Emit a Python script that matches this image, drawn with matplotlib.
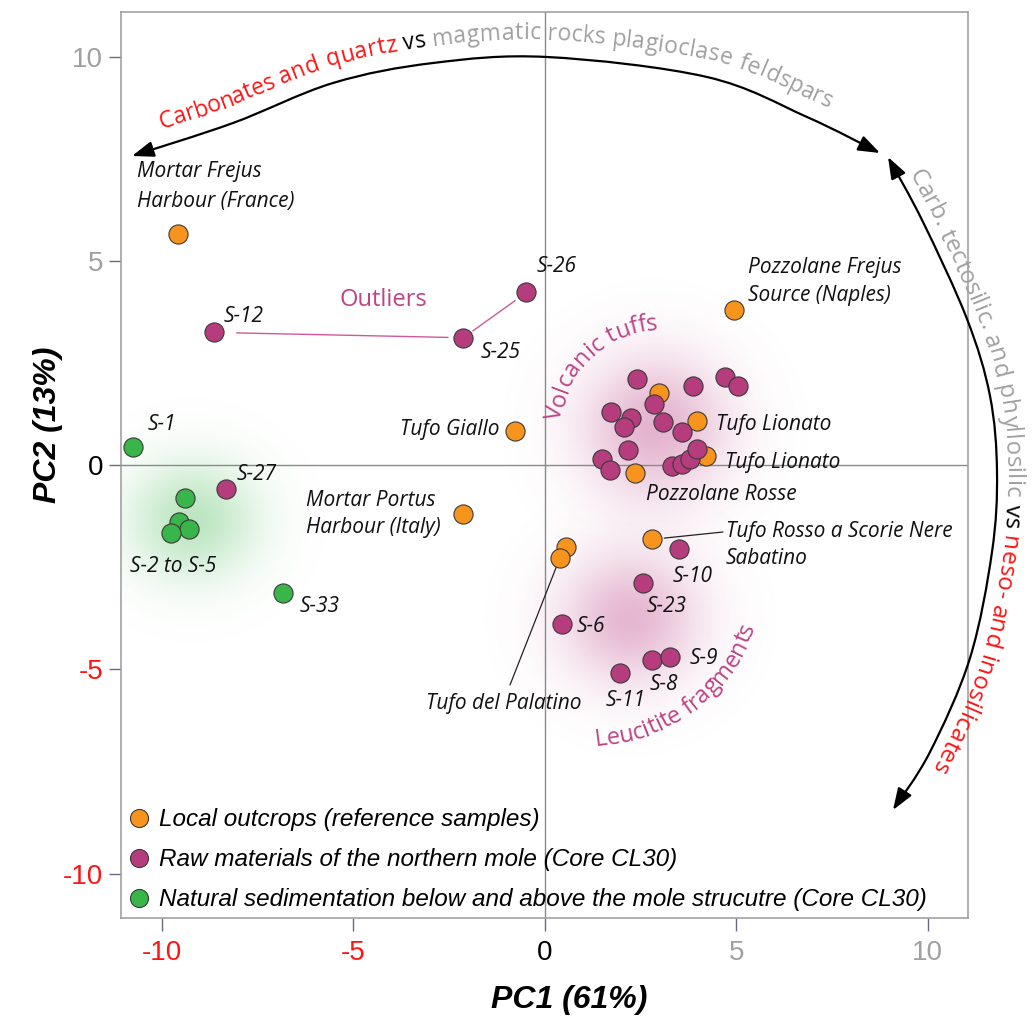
import numpy as np
import matplotlib
matplotlib.use("Agg")
import matplotlib.pyplot as plt
from matplotlib.path import Path
from matplotlib.patches import FancyArrowPatch
from matplotlib.transforms import IdentityTransform
from matplotlib.font_manager import FontProperties, get_font, findfont
from matplotlib.textpath import TextToPath
from matplotlib.lines import Line2D
from matplotlib.colors import to_rgb

# ---------------- data ----------------
local_labels = ['Mortar Frejus Harbour (France)', 'Pozzolane Frejus Source (Naples)', 'Tufo Giallo',
                'Mortar Portus Harbour (Italy)', 'Tufo del Palatino', 'Tufo del Palatino',
                'Tufo Rosso a Scorie Nere Sabatino', 'Tuff', 'Tufo Lionato', 'Tufo Lionato', 'Pozzolane Rosse']
local_pc1 = [-9.58, 4.93, -0.78, -2.14, 0.55, 0.39, 2.81, 2.98, 3.96, 4.20, 2.35]
local_pc2 = [5.67, 3.81, 0.85, -1.19, -2.00, -2.27, -1.81, 1.77, 1.09, 0.22, -0.18]

raw_labels = ['S-12', 'S-25', 'S-26', 'S-27'] + ['VT'] * 17 + ['S-10', 'S-23', 'S-6', 'S-8', 'S-9', 'S-11']
raw_group = ['outlier'] * 3 + ['other'] + ['tuff'] * 17 + ['leucitite'] * 6
raw_pc1 = [-8.63, -2.13, -0.48, -8.33,
           2.41, 2.85, 3.86, 4.70, 5.05, 1.72, 2.24, 2.07, 3.09, 3.57, 2.18, 1.48, 1.71, 3.33, 3.57, 3.79, 3.96,
           3.51, 2.57, 0.44, 2.81, 3.28, 1.96]
raw_pc2 = [3.26, 3.13, 4.24, -0.58,
           2.11, 1.50, 1.95, 2.16, 1.95, 1.32, 1.16, 0.94, 1.07, 0.83, 0.38, 0.15, -0.11, -0.01, 0.04, 0.15, 0.40,
           -2.05, -2.89, -3.88, -4.77, -4.69, -5.09]

nat_labels = ['S-1', 'S-2', 'S-3', 'S-4', 'S-5', 'S-33']
nat_pc1 = [-10.75, -9.40, -9.55, -9.29, -9.76, -6.85]
nat_pc2 = [0.46, -0.80, -1.38, -1.56, -1.66, -3.12]

legend_labels = ['Local outcrops (reference samples)',
                 'Raw materials of the northern mole (Core CL30)',
                 'Natural sedimentation below and above the mole strucutre (Core CL30)']

tick_vals = [-10, -5, 0, 5, 10]
xtick_text = ['-10', '-5', '0', '5', '10']
ytick_text = ['-10', '-5', '0', '5', '10']
xlabel = 'PC1 (61%)'
ylabel = 'PC2 (13%)'

# ---------------- style ----------------
W, H = 1034, 1017
C_ORANGE = '#F7941D'
C_PURPLE = '#B53D7E'
C_GREEN = '#3AB54A'
C_EDGE = '#3a3a3a'
C_RED = '#FF1414'
C_GRAY = '#A0A0A0'
C_PINK = '#BD4486'
tick_colors = {-10: C_RED, -5: C_RED, 0: 'black', 5: C_GRAY, 10: C_GRAY}

LABEL_FONT = ['Open Sans', 'DejaVu Sans']
NARROW = ['Liberation Sans Narrow', 'Liberation Sans', 'DejaVu Sans']
TICK_FONT = ['Liberation Sans', 'DejaVu Sans']
plt.rcParams['font.family'] = LABEL_FONT

fig = plt.figure(figsize=(W / 100, H / 100), dpi=100)
ax = fig.add_axes([120.6 / W, 1 - 918 / H, (968 - 120.6) / W, (918 - 11.7) / H])


# ---------------- glows (centred on the groups) ----------------
def glow(cx, cy, rx, ry, color, amax):
    xs = np.linspace(cx - 2 * rx, cx + 2 * rx, 240)
    ys = np.linspace(cy - 2 * ry, cy + 2 * ry, 240)
    X, Y = np.meshgrid(xs, ys)
    r2 = ((X - cx) / rx) ** 2 + ((Y - cy) / ry) ** 2
    rgba = np.zeros(X.shape + (4,))
    rgba[..., :3] = to_rgb(color)
    rgba[..., 3] = amax * np.exp(-1.6 * r2)
    ax.imshow(rgba, extent=(xs[0], xs[-1], ys[0], ys[-1]), origin='lower', aspect='auto',
              interpolation='bilinear', zorder=0.5)


rp1 = np.array(raw_pc1); rp2 = np.array(raw_pc2); grp = np.array(raw_group)
glow(rp1[grp == 'tuff'].mean() - 0.15, rp2[grp == 'tuff'].mean(), 2.35, 2.15, '#C04A8A', 0.42)
glow(rp1[grp == 'leucitite'].mean() - 0.2, rp2[grp == 'leucitite'].mean() + 0.15, 2.25, 2.0, '#C04A8A', 0.40)
np1 = np.array(nat_pc1); np2 = np.array(nat_pc2)
glow(np1[1:5].mean() + 0.3, np2[1:5].mean(), 2.1, 1.8, '#3AB54A', 0.34)

ax.set_xlim(-11.08, 11.05)
ax.set_ylim(-11.09, 11.12)

# zero lines
ax.axhline(0, color='#8a8a8a', lw=1.0, zorder=1)
ax.axvline(0, color='#8a8a8a', lw=1.0, zorder=1)

# ---------------- points ----------------
ms = 190
ax.scatter(local_pc1, local_pc2, s=ms, c=C_ORANGE, edgecolors=C_EDGE, linewidths=0.8, zorder=3)
ax.scatter(raw_pc1, raw_pc2, s=ms, c=C_PURPLE, edgecolors=C_EDGE, linewidths=0.8, zorder=4)
ax.scatter(nat_pc1, nat_pc2, s=ms, c=C_GREEN, edgecolors=C_EDGE, linewidths=0.8, zorder=5)


def pt(name):
    i = raw_labels.index(name)
    return (raw_pc1[i], raw_pc2[i])


# outlier connectors
ax.annotate('', xy=pt('S-25'), xytext=pt('S-12'),
            arrowprops=dict(arrowstyle='-', color='#D0589A', lw=1.0, shrinkA=16, shrinkB=11), zorder=2)
ax.annotate('', xy=pt('S-26'), xytext=pt('S-25'),
            arrowprops=dict(arrowstyle='-', color='#D0589A', lw=1.0, shrinkA=8.5, shrinkB=10), zorder=2)
# leader lines
ax.annotate('', xy=(local_pc1[5], local_pc2[5]), xytext=(510, H - 685), textcoords='figure pixels',
            arrowprops=dict(arrowstyle='-', color='#222222', lw=0.9, shrinkA=0, shrinkB=7), zorder=2)
ax.annotate('', xy=(local_pc1[6], local_pc2[6]), xytext=(723, H - 532), textcoords='figure pixels',
            arrowprops=dict(arrowstyle='-', color='#222222', lw=0.9, shrinkA=0, shrinkB=8.5), zorder=2)

# ---------------- axes styling ----------------
for sp in ax.spines.values():
    sp.set_color('#9a9a9a')
    sp.set_linewidth(1.1)
ax.set_xticks(tick_vals, labels=xtick_text)
ax.set_yticks(tick_vals, labels=ytick_text)
ax.tick_params(axis='both', direction='out', length=9, width=1.0, color='#6a6a88')
ax.tick_params(axis='x', pad=7)
ax.tick_params(axis='y', pad=3.5)
tfp = FontProperties(family=TICK_FONT, size=20)
for v, lab in zip(tick_vals, ax.get_xticklabels()):
    lab.set_fontproperties(tfp); lab.set_color(tick_colors[v])
for v, lab in zip(tick_vals, ax.get_yticklabels()):
    lab.set_fontproperties(tfp); lab.set_color(tick_colors[v])

afp = FontProperties(family=NARROW, style='italic', weight='bold', size=23)
ax.set_xlabel(xlabel, fontproperties=afp)
ax.set_ylabel(ylabel, fontproperties=afp)
ax.xaxis.set_label_coords(0.529, -0.0905)
ax.xaxis.label.set_va('center')
ax.yaxis.set_label_coords(-0.0857, 0.544)
ax.yaxis.label.set_va('center')

# ---------------- legend ----------------
handles = [Line2D([], [], marker='o', ls='none', ms=13, mfc=c, mec=C_EDGE, mew=0.8)
           for c in (C_ORANGE, C_PURPLE, C_GREEN)]
ax.legend(handles, legend_labels, loc='lower left', bbox_to_anchor=(0.004, 0.0), frameon=False,
          prop=FontProperties(family=NARROW, style='italic', size=17.5),
          handlelength=0.7, handletextpad=0.45, labelspacing=0.7, borderpad=0.27, borderaxespad=0.0)

# ---------------- sample labels (layout in reference pixels) ----------------
lfp = FontProperties(family=LABEL_FONT, style='italic', size=15)
labels_layout = [
    ('Mortar Frejus', 137, 172, 'left'), ('Harbour (France)', 137, 201, 'left'),
    ('Pozzolane Frejus', 748, 268, 'left'), ('Source (Naples)', 748, 296, 'left'),
    ('S-26', 537, 266, 'left'), ('S-12', 224, 316, 'left'), ('S-25', 481, 352, 'left'),
    ('S-1', 148, 424, 'left'), ('Tufo Giallo', 500, 430, 'right'), ('S-27', 237, 474, 'left'),
    ('Mortar Portus', 306, 500, 'left'), ('Harbour (Italy)', 306, 528, 'left'),
    ('S-2 to S-5', 130, 566, 'left'), ('S-33', 300, 606, 'left'),
    ('Tufo Lionato', 716, 425, 'left'), ('Tufo Lionato', 725, 463, 'left'),
    ('Pozzolane Rosse', 646, 495, 'left'),
    ('Tufo Rosso a Scorie Nere', 726, 532, 'left'), ('Sabatino', 726, 559, 'left'),
    ('S-10', 673, 576, 'left'), ('S-23', 647, 607, 'left'), ('S-6', 577, 627, 'left'),
    ('S-9', 690, 658, 'left'), ('S-8', 650, 685, 'left'), ('S-11', 606, 701, 'left'),
    ('Tufo del Palatino', 582, 704, 'right'),
]
for txt, px, py, ha in labels_layout:
    fig.text(px / W, 1 - py / H, txt, ha=ha, va='center', fontproperties=lfp, color='#111111')

gfp = FontProperties(family=LABEL_FONT, size=17)
fig.text(383 / W, 1 - 300 / H, 'Outliers', ha='center', va='center', fontproperties=gfp, color=C_PINK)

# ---------------- curved arrows and curved text ----------------
t2p = TextToPath()


def disp(pts):
    return np.array([(x, H - y) for x, y in pts], float)


def bezier_path(P):
    n = len(P)
    verts = [P[0]]
    codes = [Path.MOVETO]
    for i in range(n - 1):
        p0 = P[max(i - 1, 0)]; p1 = P[i]; p2 = P[i + 1]; p3 = P[min(i + 2, n - 1)]
        verts += [p1 + (p2 - p0) / 6, p2 - (p3 - p1) / 6, p2]
        codes += [Path.CURVE4] * 3
    return Path(np.array(verts), codes)


def sample_path(path, n=80):
    v = path.vertices
    pts = [v[0]]
    t = np.linspace(0, 1, n)[1:, None]
    for i in range(1, len(v), 3):
        a, b, c, d = v[i - 1], v[i], v[i + 1], v[i + 2]
        pts.extend((1 - t) ** 3 * a + 3 * (1 - t) ** 2 * t * b + 3 * (1 - t) * t ** 2 * c + t ** 3 * d)
    return np.array(pts)


def char_positions(s, prop):
    """x offsets (pixels) of each character start plus the end of the string."""
    try:
        font = get_font(findfont(prop))
        font.set_size(100, 72)
        info, _, _ = t2p.get_glyphs_with_font(font, s + 'H')
        xs = np.array([g[1] for g in info], float)
        xs = xs * prop.get_size_in_points() / 100.0 * fig.dpi / 72.0
        if len(xs) == len(s) + 1:
            return xs
    except Exception:
        pass
    out = [0.0]
    w0 = t2p.get_text_width_height_descent('H', prop, ismath=False)[0]
    for k in range(1, len(s) + 1):
        w = t2p.get_text_width_height_descent(s[:k] + 'H', prop, ismath=False)[0]
        out.append((w - w0) * fig.dpi / 72.0)
    return np.array(out)


def text_on_curve(pts, segments, prop, offset, start):
    d = np.diff(pts, axis=0)
    L = np.hypot(d[:, 0], d[:, 1])
    s = np.r_[0, np.cumsum(L)]
    full = ''.join(t for t, _ in segments)
    cols = [c for t, c in segments for _ in t]
    xs = char_positions(full, prop)
    for k, ch in enumerate(full):
        if not ch.strip():
            continue
        sc = start + 0.5 * (xs[k] + xs[k + 1])
        i = int(np.clip(np.searchsorted(s, sc), 1, len(s) - 1))
        f = (sc - s[i - 1]) / L[i - 1]
        x, y = pts[i - 1] + f * d[i - 1]
        tx, ty = d[i - 1] / L[i - 1]
        ang = np.degrees(np.arctan2(ty, tx))
        fig.text(x - ty * offset, y + tx * offset, ch, rotation=ang, rotation_mode='anchor',
                 ha='center', va='baseline', color=cols[k], fontproperties=prop,
                 transform=IdentityTransform())


def arclen_index(pts, idx):
    d = np.diff(pts[:idx + 1], axis=0)
    return float(np.hypot(d[:, 0], d[:, 1]).sum())


arrow_style = '<|-|>,head_length=0.55,head_width=0.2'
top_knots = disp([(132, 156), (233, 123), (333, 83), (433, 63), (547, 57), (707, 77), (807, 117), (880, 153)])
right_knots = disp([(888, 157), (923, 222), (967, 319), (990, 396), (997, 472), (992, 552),
                    (970, 658), (930, 752), (893, 810)])
for kn in (top_knots, right_knots):
    p = bezier_path(kn)
    fig.add_artist(FancyArrowPatch(path=p, arrowstyle=arrow_style, mutation_scale=24, lw=1.6,
                                   color='black', transform=IdentityTransform()))

cfp = FontProperties(family=LABEL_FONT, size=16.6)
tp = sample_path(bezier_path(top_knots))
i0 = int(np.argmax(tp[:, 0] >= 166))
text_on_curve(tp, [('Carbonates and quartz', C_RED), (' vs ', 'black'),
                   ('magmatic rocks plagioclase feldspars', C_GRAY)], cfp, 17, arclen_index(tp, i0))

rfp = FontProperties(family=LABEL_FONT, size=17.5)
rpts = sample_path(bezier_path(right_knots))
j0 = int(np.argmax(rpts[:, 1] <= H - 178))
text_on_curve(rpts, [('Carb. tectosilic. and phyllosilic', C_GRAY), (' vs ', 'black'),
                     ('neso- and inosilicates', C_RED)], rfp, 9, arclen_index(rpts, j0))

# group labels along arcs
a_v = np.radians([175, 155, 135, 115, 95, 80, 65])
volc_knots = disp([(660 + 100 * np.cos(a), 430 - 100 * np.sin(a)) for a in a_v])
text_on_curve(sample_path(bezier_path(volc_knots)), [('Volcanic tuffs', C_PINK)], gfp, 0, 0)
a_l = np.radians([-88, -70, -50, -30, -10, 5])
leu_knots = disp([(585 + 181 * np.cos(a), 566 - 181 * np.sin(a)) for a in a_l])
text_on_curve(sample_path(bezier_path(leu_knots)), [('Leucitite fragments', C_PINK)], gfp, 0, 4)

fig.savefig('out.png', dpi=100)
